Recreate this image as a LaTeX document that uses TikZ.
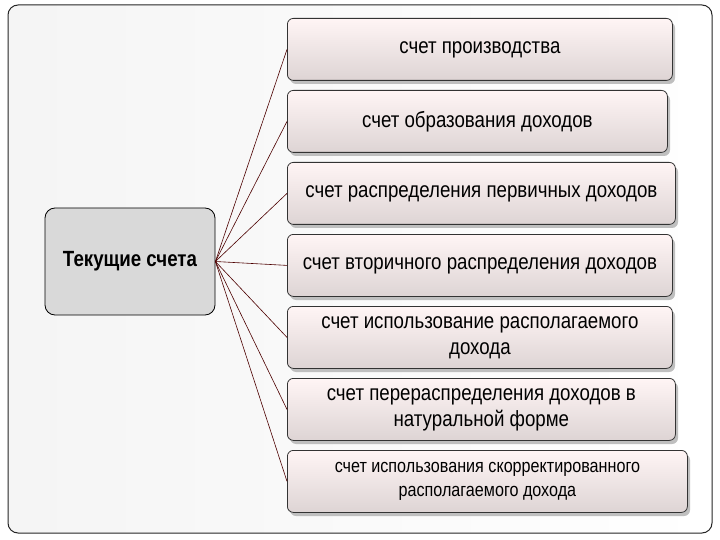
\documentclass[tikz,border=0pt]{standalone}
\usepackage{fontspec}
\setmainfont{Liberation Sans}[FakeStretch=0.85]
\begin{document}
\begin{tikzpicture}[x=1pt,y=-1pt,
  acc/.style={draw=black!80,line width=0.8pt,rounded corners=6pt,top color=red!4!white,bottom color=red!12!gray!30,align=center,inner sep=2pt},
  conn/.style={draw=red!30!black,line width=0.6pt}]
\useasboundingbox (0,0) rectangle (720,540);
\draw[draw=black!85,line width=1pt,rounded corners=10pt,left color=gray!8,right color=white] (8,5) rectangle (712,533);
\node[draw=black,line width=0.8pt,rounded corners=10pt,fill=gray!30,minimum width=170pt,minimum height=107pt,font=\bfseries\fontsize{22}{26}\selectfont] (L) at (130,261.5) {Текущие счета};
\foreach \n/\xr/\yt/\t/\fs/\bs in {
 1/672/18/{счет производства}/22/26,
 2/667/90/{счет образования доходов}/22/26,
 3/675/162/{счет распределения первичных доходов}/22/26,
 4/672/234/{счет вторичного распределения доходов}/22/26,
 5/672/306/{счет использование располагаемого\\дохода}/22/26,
 6/675/378/{счет перераспределения доходов в\\натуральной форме}/22/26,
 7/687/450/{счет использования скорректированного\\располагаемого дохода}/19/24}{
  \fill[black!25,rounded corners=6pt] (290,\yt+4) rectangle (\xr+3,\yt+66);
  \node[acc,minimum width=\xr-287,minimum height=62pt,font=\fontsize{\fs}{\bs}\selectfont,anchor=north west] (R\n) at (287,\yt) {\t};
  \draw[conn] (L.east) -- (R\n.west);
}
\end{tikzpicture}
\end{document}
